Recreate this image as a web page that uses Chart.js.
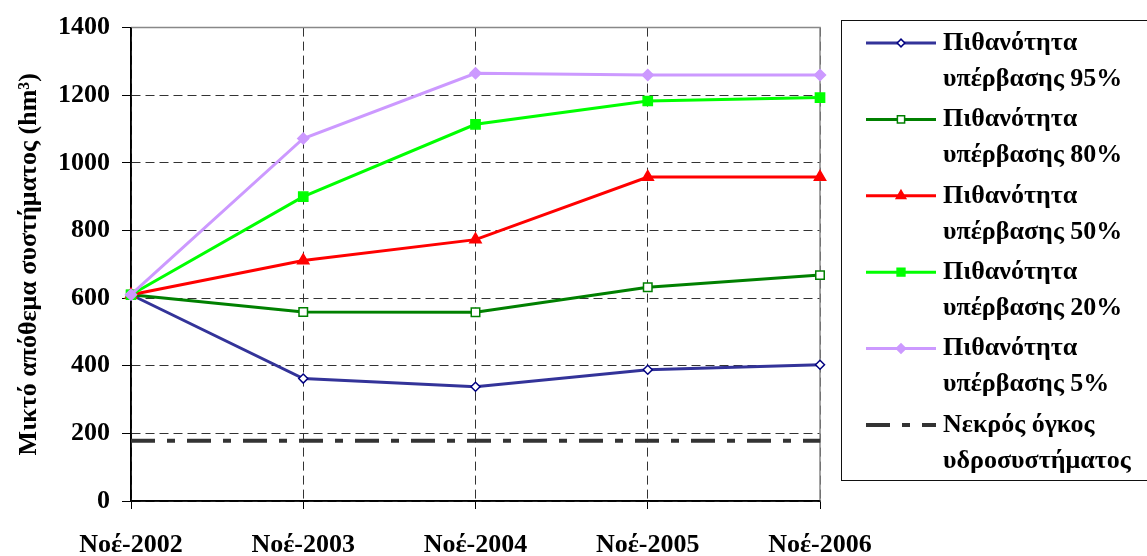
<!DOCTYPE html>
<html lang="el">

<head>
    <meta charset="UTF-8">
    <title>Μικτό απόθεμα συστήματος</title>
    <style>
        body { margin: 0; background: #fff; }
        #box { width: 1147px; height: 556px; }
    </style>
</head>

<body>
    <div id="box">
        <canvas id="myChart"></canvas>
    </div>

    <script src="https://cdn.jsdelivr.net/npm/chart.js"></script>
    <script>
        // δεδομένα
        const v_labels = ['Νοέ-2002', 'Νοέ-2003', 'Νοέ-2004', 'Νοέ-2005', 'Νοέ-2006'];
        const v_p95 = [610, 362, 338, 388, 403];
        const v_p80 = [610, 559, 558, 632, 668];
        const v_p50 = [610, 711, 773, 958, 958];
        const v_p20 = [610, 900, 1114, 1183, 1193];
        const v_p5 = [610, 1072, 1265, 1260, 1260];
        const v_dead = [178, 178, 178, 178, 178];
        const v_names = [
            ['Πιθανότητα', 'υπέρβασης 95%'],
            ['Πιθανότητα', 'υπέρβασης 80%'],
            ['Πιθανότητα', 'υπέρβασης 50%'],
            ['Πιθανότητα', 'υπέρβασης 20%'],
            ['Πιθανότητα', 'υπέρβασης 5%'],
            ['Νεκρός όγκος', 'υδροσυστήματος']
        ];
        const v_yTitle = 'Μικτό απόθεμα συστήματος (hm³)';
        const v_yMin = 0, v_yMax = 1400, v_yStep = 200;

        const v_font = '"Liberation Serif", "Times New Roman", serif';

        function f_series(p_i, p_data, p_color, p_style, p_radius, p_fill, p_edge) {
            return {
                label: v_names[p_i].join(' '),
                data: p_data,
                borderColor: p_color,
                borderWidth: 3,
                pointStyle: p_style,
                pointRadius: p_radius,
                pointHoverRadius: p_radius,
                pointBackgroundColor: p_fill,
                pointBorderColor: p_edge,
                pointBorderWidth: 1.5,
                tension: 0,
                order: 10 - p_i,
                clip: false
            };
        }

        let v_datasets = [
            f_series(0, v_p95, '#333399', 'rectRot', 4.5, '#ffffff', '#000080'),
            f_series(1, v_p80, '#008000', 'rect', 6, '#ffffff', '#008000'),
            f_series(2, v_p50, '#ff0000', 'triangle', 6.5, '#ff0000', '#ff0000'),
            f_series(3, v_p20, '#00ff00', 'rect', 6.5, '#00ff00', '#00ff00'),
            f_series(4, v_p5, '#cc99ff', 'rectRot', 5.5, '#cc99ff', '#cc99ff'),
            {
                label: v_names[5].join(' '),
                data: v_dead,
                borderColor: '#333333',
                borderWidth: 4,
                borderDash: [24, 12, 8, 12],
                borderCapStyle: 'butt',
                pointRadius: 0,
                tension: 0,
                order: 20,
                clip: false
            }
        ];

        // υπόμνημα δεξιά, σε δύο γραμμές ανά σειρά
        const v_legend = {
            id: 'sideLegend',
            afterDraw(chart) {
                const c = chart.ctx;
                c.save();
                c.strokeStyle = '#111';
                c.lineWidth = 1;
                c.strokeRect(841.5, 20.5, 330, 460);
                chart.data.datasets.forEach((ds, i) => {
                    const y = 43 + i * 76.4;
                    c.strokeStyle = ds.borderColor;
                    c.lineWidth = ds.borderWidth;
                    c.lineCap = 'butt';
                    c.setLineDash(ds.borderDash || []);
                    c.beginPath();
                    c.moveTo(866, y);
                    c.lineTo(936, y);
                    c.stroke();
                    c.setLineDash([]);
                    if (ds.pointRadius > 0) {
                        c.fillStyle = ds.pointBackgroundColor;
                        c.strokeStyle = ds.pointBorderColor;
                        c.lineWidth = ds.pointBorderWidth;
                        Chart.helpers.drawPoint(c, {
                            pointStyle: ds.pointStyle,
                            radius: ds.pointRadius * 0.85,
                            borderWidth: ds.pointBorderWidth,
                            rotation: 0
                        }, 901, y);
                    }
                    c.fillStyle = '#000';
                    c.font = 'bold 26px ' + v_font;
                    c.textAlign = 'left';
                    c.textBaseline = 'middle';
                    v_names[i].forEach((t, k) => c.fillText(t, 943, y + k * 36));
                });
                c.restore();
            }
        };

        // γκρι πλαίσιο πάνω/δεξιά, μαύροι άξονες αριστερά/κάτω
        const v_frame = {
            id: 'frame',
            beforeDatasetsDraw(chart) {
                const a = chart.chartArea;
                const c = chart.ctx;
                c.save();
                c.strokeStyle = '#888';
                c.lineWidth = 1.5;
                c.beginPath();
                c.moveTo(a.left, a.top);
                c.lineTo(a.right, a.top);
                c.lineTo(a.right, a.bottom);
                c.stroke();
                c.strokeStyle = '#000';
                c.lineWidth = 1.5;
                c.beginPath();
                c.moveTo(a.left, a.top);
                c.lineTo(a.left, a.bottom);
                c.lineTo(a.right, a.bottom);
                c.stroke();
                c.restore();
            }
        };

        // διακεκομμένο πλέγμα
        const f_dash = (p_ctx) => p_ctx.type === 'tick' ? [9, 5] : [];

        const ctx = document.getElementById('myChart');

        new Chart(ctx, {
            type: 'line',
            data: {
                labels: v_labels,
                datasets: v_datasets
            },
            options: {
                responsive: true,
                maintainAspectRatio: false,
                animation: false,
                layout: {
                    padding: { top: 21, right: 327, left: 0, bottom: 0 }
                },
                plugins: {
                    legend: { display: false },
                    tooltip: { enabled: false }
                },
                scales: {
                    x: {
                        offset: false,
                        afterFit: (s) => { s.height = 55; },
                        grid: {
                            color: '#333',
                            lineWidth: 1,
                            tickLength: 8,
                            tickColor: '#000'
                        },
                        border: {
                            color: '#000',
                            width: 1.5,
                            dash: f_dash
                        },
                        ticks: {
                            color: '#000',
                            padding: 21,
                            maxRotation: 0,
                            font: { family: v_font, size: 26, weight: 'bold' }
                        }
                    },
                    y: {
                        min: v_yMin,
                        max: v_yMax,
                        afterFit: (s) => { s.width = 131; },
                        grid: {
                            color: '#333',
                            lineWidth: 1,
                            tickLength: 9,
                            tickColor: '#000'
                        },
                        border: {
                            color: '#000',
                            width: 1.5,
                            dash: f_dash
                        },
                        ticks: {
                            stepSize: v_yStep,
                            color: '#000',
                            padding: 12,
                            callback: (v) => String(v),
                            font: { family: v_font, size: 26, weight: 'bold' }
                        },
                        title: {
                            display: true,
                            text: v_yTitle,
                            color: '#000',
                            padding: { top: 14, bottom: 0 },
                            font: { family: v_font, size: 26, weight: 'bold' }
                        }
                    }
                }
            },
            plugins: [v_frame, v_legend]
        });
    </script>
</body>

</html>
